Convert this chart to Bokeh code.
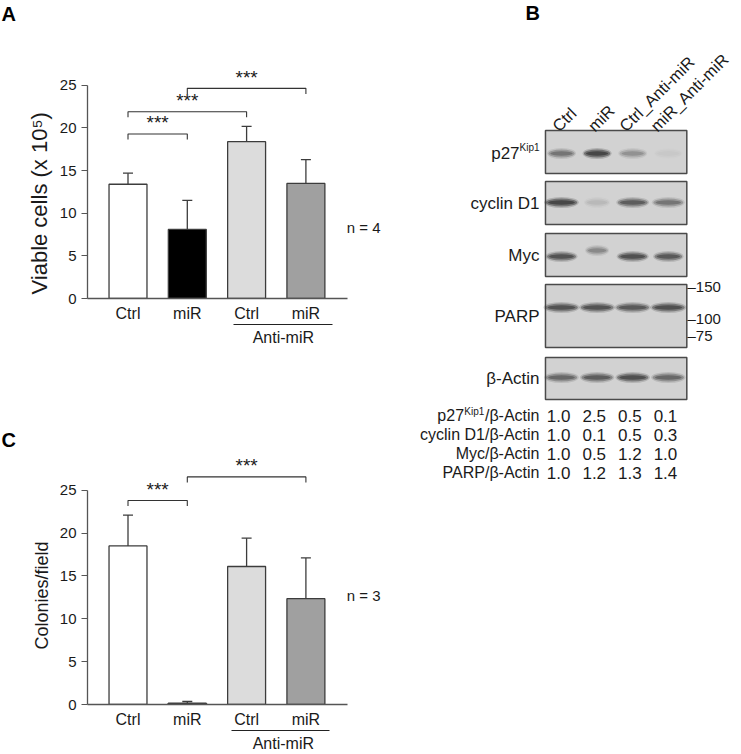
import numpy as np
from bokeh.plotting import figure
from bokeh.models import (Range1d, LinearAxis, FixedTicker, Whisker, ColumnDataSource,
                          TeeHead, Title)
from bokeh.layouts import row, column
from bokeh.embed import file_html
from bokeh.resources import INLINE
from bokeh.core.properties import value

# ---------------- data ----------------
groups = ["Ctrl", "miR", "Ctrl", "miR"]
group_sub = "Anti-miR"
bar_colors = ["#ffffff", "#000000", "#dcdcdc", "#a0a0a0"]

viable_mean = [13.4, 8.1, 18.4, 13.5]
viable_upper = [14.7, 11.5, 20.2, 16.3]
viable_sig_from = [1, 1, 2]
viable_sig_to = [2, 3, 4]
viable_sig_level = [19.3, 21.9, 24.65]
viable_sig_text = ["***", "***", "***"]
viable_n = "n = 4"
viable_n_y = 8.3

colonies_mean = [18.5, 0.15, 16.1, 12.35]
colonies_upper = [22.1, 0.35, 19.4, 17.1]
colonies_sig_from = [1, 2]
colonies_sig_to = [2, 4]
colonies_sig_level = [23.8, 26.55]
colonies_sig_text = ["***", "***"]
colonies_n = "n = 3"
colonies_n_y = 12.7

lanes = ["Ctrl", "miR", "Ctrl_Anti-miR", "miR_Anti-miR"]
blot_rows = ["p27", "cyclin D1", "Myc", "PARP", "\u03b2-Actin"]
band_p27 = [0.55, 1.0, 0.35, 0.04]
band_cyclin = [1.0, 0.12, 0.75, 0.55]
band_myc = [0.85, 0.4, 0.9, 0.8]
band_parp = [0.85, 0.85, 0.8, 0.9]
band_actin = [0.65, 0.75, 0.9, 0.65]
mw_labels = ["150", "100", "75"]

quant_names = ["p27", "cyclin D1", "Myc", "PARP"]
quant_p27 = [1.0, 2.5, 0.5, 0.1]
quant_cyclin = [1.0, 0.1, 0.5, 0.3]
quant_myc = [1.0, 0.5, 1.2, 1.0]
quant_parp = [1.0, 1.2, 1.3, 1.4]

FNAME = "Liberation Sans"
FONT = value(FNAME)
TXT = "#1a1a1a"
AX = "#555555"

X0, PX_PER_CAT = 0.317, 59.3   # x range start and pixels per category


def bar_panel(letter, spacer_standoff, letter_standoff, ylabel, ylabel_size, ylabel_offset,
              means, upper, s_from, s_to, s_lvl, s_txt, ntext, n_y, height, top_border,
              frame_h, bottom_border, px_per_unit, sub_bounds):
    y_end = frame_h / px_per_unit
    x = [1, 2, 3, 4]
    p = figure(width=390, height=height, x_range=Range1d(X0, X0 + 298 / PX_PER_CAT),
               y_range=Range1d(0, y_end), output_backend="svg", toolbar_location=None,
               min_border_left=87, min_border_right=5, min_border_top=top_border,
               min_border_bottom=bottom_border, title=None)
    p.xgrid.visible = False
    p.ygrid.visible = False
    p.outline_line_color = None

    # panel letter as a title; an optional blank title keeps it away from the frame
    if spacer_standoff is not None:
        p.add_layout(Title(text=" ", standoff=spacer_standoff, text_font_size="10px"), "above")
    p.add_layout(Title(text=letter, align="left", offset=-86, standoff=letter_standoff,
                       text_font=FNAME, text_font_size="20px", text_font_style="bold",
                       text_color="#000000"), "above")

    p.vbar(x=x, top=means, width=0.64, fill_color=bar_colors, line_color="#3c3c3c",
           line_width=1.3)
    src = ColumnDataSource(dict(x=x, lower=means, upper=upper))
    p.add_layout(Whisker(source=src, base="x", lower="lower", upper="upper",
                         lower_head=None,
                         upper_head=TeeHead(size=10, line_color="#3c3c3c", line_width=1.3),
                         line_color="#3c3c3c", line_width=1.3))

    yax = p.yaxis[0]
    yax.bounds = (0, 25)
    yax.ticker = FixedTicker(ticks=[0, 5, 10, 15, 20, 25])
    yax.major_tick_out = 6
    yax.major_tick_in = 0
    yax.minor_tick_out = 0
    yax.minor_tick_in = 0
    yax.axis_line_color = AX
    yax.axis_line_width = 1.3
    yax.major_tick_line_color = AX
    yax.major_label_text_font = FNAME
    yax.major_label_text_font_size = "15px"
    yax.major_label_text_color = TXT
    yax.major_label_standoff = 5

    # y axis title as a rotated side title
    yt = Title(text=ylabel, align="left", offset=ylabel_offset, standoff=10,
               text_font=FNAME, text_font_size=ylabel_size, text_font_style="normal",
               text_color=TXT)
    p.add_layout(yt, "left")

    xax = p.xaxis[0]
    xax.bounds = (X0, 4.70)
    xax.ticker = FixedTicker(ticks=x)
    xax.major_label_overrides = {i + 1: g for i, g in enumerate(groups)}
    xax.major_tick_out = 0
    xax.major_tick_in = 0
    xax.minor_tick_out = 0
    xax.minor_tick_in = 0
    xax.axis_line_color = AX
    xax.axis_line_width = 1.3
    xax.major_label_text_font = FNAME
    xax.major_label_text_font_size = "16px"
    xax.major_label_text_color = TXT
    xax.major_label_standoff = 6

    mid = 3.62
    xax2 = LinearAxis(bounds=sub_bounds, ticker=FixedTicker(ticks=[mid]),
                      major_label_overrides={mid: group_sub})
    xax2.major_tick_out = 0
    xax2.major_tick_in = 0
    xax2.minor_tick_out = 0
    xax2.minor_tick_in = 0
    xax2.axis_line_color = "#222222"
    xax2.axis_line_width = 1.2
    xax2.major_label_text_font = FNAME
    xax2.major_label_text_font_size = "16px"
    xax2.major_label_text_color = TXT
    xax2.major_label_standoff = 4
    p.add_layout(xax2, "below")

    drop = 0.65
    bx = [[a, a, b, b] for a, b in zip(s_from, s_to)]
    by = [[l - drop, l, l, l - drop] for l in s_lvl]
    p.multi_line(bx, by, line_color="#333333", line_width=1.1)
    p.text(x=[(a + b) / 2 for a, b in zip(s_from, s_to)], y=[l + 0.1 for l in s_lvl],
           text=s_txt, text_align="center", text_baseline="bottom",
           text_font=FONT, text_font_size="19px", text_color=TXT)
    p.text(x=[4.69], y=[n_y], text=[ntext], text_align="left", text_baseline="middle",
           text_font=FONT, text_font_size="15px", text_color=TXT)
    return p


# panel A: frame from y=70 to y=300 (8.6 px per unit)
pa = bar_panel("A", 33, 0, "Viable cells (x 10\u2075)", "22px", 4,
               viable_mean, viable_upper,
               viable_sig_from, viable_sig_to, viable_sig_level, viable_sig_text,
               viable_n, viable_n_y, height=348, top_border=70, frame_h=230,
               bottom_border=48, px_per_unit=8.6, sub_bounds=(2.78, 4.45))
# panel C: starts at y=348, frame from 452 to 706 (8.64 px per unit)
pc = bar_panel("C", None, 3, "Colonies/field", "18px", 55,
               colonies_mean, colonies_upper,
               colonies_sig_from, colonies_sig_to, colonies_sig_level, colonies_sig_text,
               colonies_n, colonies_n_y, height=406, top_border=104, frame_h=254,
               bottom_border=48, px_per_unit=8.64, sub_bounds=(2.75, 4.40))

# ---------------- panel B: western blot ----------------
LANE1, LANE_PX = 561, 35.6
pb = figure(width=351, height=754,
            x_range=Range1d(1 + (390 - LANE1) / LANE_PX, 1 + (741 - LANE1) / LANE_PX),
            y_range=Range1d(754, 0),
            output_backend="svg", toolbar_location=None, x_axis_type=None, y_axis_type=None,
            min_border=0)
pb.xgrid.visible = False
pb.ygrid.visible = False
pb.outline_line_color = None

lane_x = [1, 2, 3, 4]
box_top = [130, 181, 233, 284, 357]
box_bot = [173, 224, 276, 347, 399]
band_y = [153, 202, 256, 307, 377]
band_w = [0.74, 0.84, 0.82, 0.92, 0.88]
band_shift = [[0, 0, 0, 0], [0, 0, 0, 0], [0, -6, 0, 0], [0, 0, 0, 0], [0, 0, 0, 0]]
band_wscale = [[1, 1, 1, 1], [1.05, 0.8, 1, 1], [1, 0.75, 1, 0.95], [1, 1, 1, 1], [1, 1, 1, 1]]
band_vals = [band_p27, band_cyclin, band_myc, band_parp, band_actin]

pb.quad(left=[0.55] * 5, right=[4.52] * 5, top=box_top, bottom=box_bot,
        fill_color="#d2d2d2", line_color="#4a4a4a", line_width=1.5)
for r in range(5):
    ys = [band_y[r] + s for s in band_shift[r]]
    for wf, h, a in [(1.1, 11, 0.2), (1.0, 8, 0.45), (0.85, 4.5, 0.6)]:
        pb.ellipse(x=lane_x, y=ys, width=[band_w[r] * wf * k for k in band_wscale[r]],
                   height=h, fill_color="#2a2a2a",
                   fill_alpha=[a * v for v in band_vals[r]], line_color=None)

# lane labels (rotated)
lane_label_shift = [-0.18, -0.18, -0.3, -0.42]
pb.text(x=[l + s for l, s in zip(lane_x, lane_label_shift)], y=[128] * 4, text=lanes,
        angle=0.785, text_align="left", text_baseline="alphabetic", text_font=FONT,
        text_font_size="16.5px", text_color=TXT)

# row labels
label_x = 1 + (539 - LANE1) / LANE_PX
row_cy = [(t + b) / 2 for t, b in zip(box_top, box_bot)]
pb.text(x=[label_x] * 4, y=row_cy[1:], text=blot_rows[1:], text_align="right",
        text_baseline="middle", text_font=FONT, text_font_size="17px", text_color=TXT)
pb.text(x=[label_x], y=[row_cy[0] - 5], text=["Kip1"], text_align="right",
        text_baseline="middle", text_font=FONT, text_font_size="10px", text_color=TXT)
pb.text(x=[label_x - 0.56], y=[row_cy[0] + 1], text=[blot_rows[0]], text_align="right",
        text_baseline="middle", text_font=FONT, text_font_size="17px", text_color=TXT)

# molecular weight markers
pb.text(x=[1 + (687 - LANE1) / LANE_PX] * 3, y=[286, 318, 335],
        text=["\u2013" + m for m in mw_labels],
        text_align="left", text_baseline="middle", text_font=FONT,
        text_font_size="15px", text_color=TXT)

# quantification table
q_y = [415, 434, 453, 472]
q_vals = [quant_p27, quant_cyclin, quant_myc, quant_parp]
for r in range(4):
    pb.text(x=[l - 0.08 for l in lane_x], y=[q_y[r]] * 4, text=["%.1f" % v for v in q_vals[r]],
            text_align="center", text_baseline="middle", text_font=FONT,
            text_font_size="17px", text_color=TXT)
suffix = "/\u03b2-Actin"
pb.text(x=[label_x] * 3, y=q_y[1:], text=[n + suffix for n in quant_names[1:]],
        text_align="right", text_baseline="middle", text_font=FONT,
        text_font_size="16px", text_color=TXT)
pb.text(x=[label_x], y=[q_y[0]], text=[suffix], text_align="right",
        text_baseline="middle", text_font=FONT, text_font_size="16px", text_color=TXT)
pb.text(x=[label_x - 1.55], y=[q_y[0] - 4], text=["Kip1"], text_align="right",
        text_baseline="middle", text_font=FONT, text_font_size="10px", text_color=TXT)
pb.text(x=[label_x - 2.12], y=[q_y[0]], text=[quant_names[0]], text_align="right",
        text_baseline="middle", text_font=FONT, text_font_size="16px", text_color=TXT)

# panel letter
pb.text(x=[1 + (525 - LANE1) / LANE_PX], y=[12], text=["B"], text_align="left",
        text_baseline="alphabetic", text_font=FONT, text_font_size="20px",
        text_font_style="bold", text_color="#000000")

layout = row(column(pa, pc, spacing=0), pb, spacing=0)
open("out.html", "w").write(file_html(layout, INLINE))
